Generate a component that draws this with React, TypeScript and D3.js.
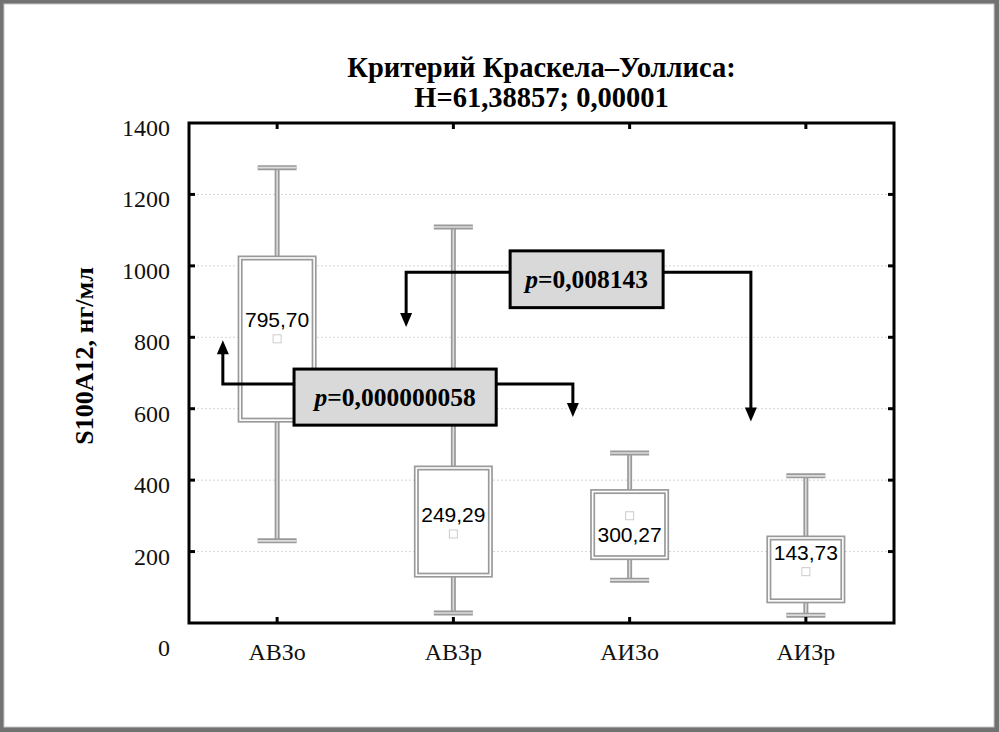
import React, { useRef, useEffect } from 'react';
import * as d3 from 'd3';

const groups = ['АВЗо', 'АВЗр', 'АИЗо', 'АИЗр'];
const whiskerHigh = [1275, 1109, 476, 412];
const boxHigh = [1022, 434, 368, 238];
const boxLow = [568, 134, 183, 62];
const whiskerLow = [230, 28, 120, 22];
const means = [795.7, 249.29, 300.27, 143.73];
const meanLabels = ['795,70', '249,29', '300,27', '143,73'];
const labelSide = [-1, -1, 1, -1];

const yTicks = [200, 400, 600, 800, 1000, 1200, 1400];

// annotation brackets: box extents in group-index / data units
const pLabels = ['0,000000058', '0,008143'];
const pBoxX0 = [0.096, 1.322];
const pBoxX1 = [1.243, 2.19];
const pBoxTop = [711, 1042];
const pBoxBottom = [554, 883];
const pLineY = [669, 982];
const pLeftX = [-0.308, 0.732];
const pLeftTip = [792, 829];
const pRightX = [1.678, 2.688];
const pRightTip = [577, 564];

const W = 999;
const H = 732;

const App: React.FC = () => {
  const svgRef = useRef<SVGSVGElement>(null);

  useEffect(() => {
    if (!svgRef.current) return;
    const svg = d3.select(svgRef.current);
    svg.selectAll('*').remove();

    const margin = { top: 123, right: 105, bottom: 109, left: 189 };
    const cw = W - margin.left - margin.right;
    const ch = H - margin.top - margin.bottom;
    const serif = '"Liberation Serif", "Times New Roman", serif';
    const sans = '"Liberation Sans", Arial, sans-serif';

    // frame
    svg.append('rect').attr('x', 0).attr('y', 0).attr('width', W).attr('height', H).attr('fill', '#727272');
    svg.append('rect').attr('x', 4).attr('y', 4).attr('width', W - 9).attr('height', H - 9).attr('fill', '#fff')
      .attr('stroke', '#c8c8c8').attr('stroke-width', 1);

    const x = d3.scaleBand().domain(groups).range([0, cw]).padding(0);
    const xi = d3.scaleLinear().domain([-0.5, groups.length - 0.5]).range([0, cw]);
    const y = d3.scaleLinear().domain([0, 1400]).range([ch, 0]);
    const cx = (g: string) => (x(g) || 0) + x.bandwidth() / 2;

    const g = svg.append('g').attr('transform', `translate(${margin.left},${margin.top})`);

    // title
    svg.append('text').attr('x', margin.left + cw / 2).attr('y', 76.5)
      .attr('text-anchor', 'middle').attr('font-family', serif).attr('font-weight', 'bold').attr('font-size', 28.5)
      .text('Критерий Краскела–Уоллиса:');
    svg.append('text').attr('x', margin.left + cw / 2).attr('y', 106.5)
      .attr('text-anchor', 'middle').attr('font-family', serif).attr('font-weight', 'bold').attr('font-size', 28.5)
      .text('H=61,38857; 0,00001');

    // y label
    svg.append('text').attr('transform', `translate(93,356) rotate(-90)`)
      .attr('text-anchor', 'middle').attr('font-family', serif).attr('font-weight', 'bold').attr('font-size', 26)
      .text('S100A12, нг/мл');

    // grid
    g.selectAll('.grid').data(yTicks.slice(0, -1)).enter().append('line')
      .attr('x1', 0).attr('x2', cw).attr('y1', d => y(d)).attr('y2', d => y(d))
      .attr('stroke', '#d6d6d6').attr('stroke-width', 1).attr('stroke-dasharray', '2,2');

    // tick labels
    g.selectAll('.ylab').data(yTicks).enter().append('text')
      .attr('x', -19).attr('y', d => y(d) + 13)
      .attr('text-anchor', 'end').attr('font-family', serif).attr('font-size', 24).attr('fill', '#111')
      .text(d => String(d));
    g.append('text').attr('x', -25).attr('y', ch + 33).attr('text-anchor', 'middle')
      .attr('font-family', serif).attr('font-size', 24).attr('fill', '#111').text('0');

    g.selectAll('.xlab').data(groups).enter().append('text')
      .attr('x', d => cx(d)).attr('y', ch + 37)
      .attr('text-anchor', 'middle').attr('font-family', serif).attr('font-size', 24).attr('fill', '#111')
      .text(d => d);

    // boxes
    const cap = 39;
    const bw = 74;
    groups.forEach((grp, i) => {
      const c = cx(grp);
      const bg = g.append('g');
      const dbl = (x1: number, y1: number, x2: number, y2: number, inner: string) => {
        bg.append('line').attr('x1', x1).attr('x2', x2).attr('y1', y1).attr('y2', y2)
          .attr('stroke', '#9a9a9a').attr('stroke-width', 5);
        bg.append('line').attr('x1', x1).attr('x2', x2).attr('y1', y1).attr('y2', y2)
          .attr('stroke', inner).attr('stroke-width', 1.6);
      };
      dbl(c, y(whiskerHigh[i]), c, y(boxHigh[i]), '#dcdcdc');
      dbl(c, y(boxLow[i]), c, y(whiskerLow[i]), '#dcdcdc');
      dbl(c - cap / 2, y(whiskerHigh[i]), c + cap / 2, y(whiskerHigh[i]), '#dcdcdc');
      dbl(c - cap / 2, y(whiskerLow[i]), c + cap / 2, y(whiskerLow[i]), '#dcdcdc');
      const rx = c - bw / 2;
      const ry = y(boxHigh[i]);
      const rh = y(boxLow[i]) - y(boxHigh[i]);
      bg.append('rect').attr('x', rx).attr('y', ry).attr('width', bw).attr('height', rh)
        .attr('fill', '#fff').attr('stroke', '#9a9a9a').attr('stroke-width', 5);
      bg.append('rect').attr('x', rx).attr('y', ry).attr('width', bw).attr('height', rh)
        .attr('fill', 'none').attr('stroke', '#fff').attr('stroke-width', 1.6);
      bg.append('rect').attr('x', c - 4).attr('y', y(means[i]) - 4).attr('width', 8).attr('height', 8)
        .attr('fill', '#fff').attr('stroke', '#cfcaca').attr('stroke-width', 1);
      bg.append('text').attr('x', c).attr('y', y(means[i]) + labelSide[i] * 19 + 7.5)
        .attr('text-anchor', 'middle').attr('font-family', sans).attr('font-size', 21).attr('fill', '#000')
        .text(meanLabels[i]);
    });

    // axes frame + ticks
    g.append('rect').attr('x', 0).attr('y', 0).attr('width', cw).attr('height', ch)
      .attr('fill', 'none').attr('stroke', '#000').attr('stroke-width', 3);
    const tk = 6;
    yTicks.slice(0, -1).forEach(t => {
      g.append('line').attr('x1', 0).attr('x2', tk).attr('y1', y(t)).attr('y2', y(t)).attr('stroke', '#000').attr('stroke-width', 3);
      g.append('line').attr('x1', cw).attr('x2', cw - tk).attr('y1', y(t)).attr('y2', y(t)).attr('stroke', '#000').attr('stroke-width', 3);
    });
    groups.forEach(grp => {
      const c = cx(grp);
      g.append('line').attr('x1', c).attr('x2', c).attr('y1', 0).attr('y2', tk).attr('stroke', '#000').attr('stroke-width', 3);
      g.append('line').attr('x1', c).attr('x2', c).attr('y1', ch).attr('y2', ch - tk).attr('stroke', '#000').attr('stroke-width', 3);
    });

    // annotations
    const arrow = (ax: number, tip: number, up: boolean) => {
      const s = up ? 1 : -1;
      g.append('path')
        .attr('d', `M${ax - 6},${tip + s * 14}L${ax},${tip}L${ax + 6},${tip + s * 14}Z`)
        .attr('fill', '#000');
    };
    pLabels.forEach((lab, i) => {
      const bx0 = xi(pBoxX0[i]);
      const bx1 = xi(pBoxX1[i]);
      const ly = y(pLineY[i]);
      const lx = xi(pLeftX[i]);
      const rxp = xi(pRightX[i]);
      const lt = y(pLeftTip[i]);
      const rt = y(pRightTip[i]);
      const leftUp = lt < ly;
      g.append('path')
        .attr('d', `M${bx0},${ly}H${lx}V${lt + (leftUp ? 12 : -12)}`)
        .attr('fill', 'none').attr('stroke', '#000').attr('stroke-width', 3);
      arrow(lx, lt, leftUp);
      g.append('path')
        .attr('d', `M${bx1},${ly}H${rxp}V${rt - 12}`)
        .attr('fill', 'none').attr('stroke', '#000').attr('stroke-width', 3);
      arrow(rxp, rt, false);
      g.append('rect').attr('x', bx0).attr('y', y(pBoxTop[i]))
        .attr('width', bx1 - bx0).attr('height', y(pBoxBottom[i]) - y(pBoxTop[i]))
        .attr('fill', '#d9d9d9').attr('stroke', '#000').attr('stroke-width', 3);
      const t = g.append('text').attr('x', (bx0 + bx1) / 2)
        .attr('y', (y(pBoxTop[i]) + y(pBoxBottom[i])) / 2 + 9)
        .attr('text-anchor', 'middle').attr('font-family', serif).attr('font-weight', 'bold').attr('font-size', 25.5)
        .attr('fill', '#000');
      t.append('tspan').attr('font-style', 'italic').text('p');
      t.append('tspan').text('=' + lab);
    });
  }, []);

  return (
    <svg ref={svgRef} width={W} height={H}
      style={{ position: 'absolute', left: 0, top: 0, display: 'block', background: '#fff' }} />
  );
};

export default App;
